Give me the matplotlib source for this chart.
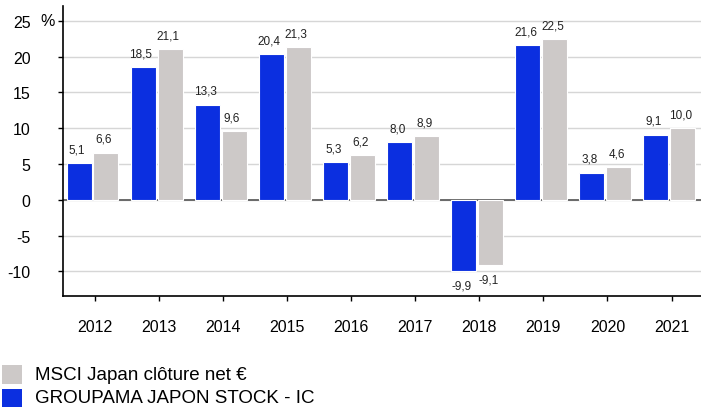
import numpy as np
import matplotlib
matplotlib.use("Agg")
import matplotlib.pyplot as plt
from matplotlib.patches import Rectangle

plt.rcParams['font.family'] = ['Liberation Sans', 'DejaVu Sans']

years = ['2012', '2013', '2014', '2015', '2016', '2017', '2018', '2019', '2020', '2021']
fund = [5.1, 18.5, 13.3, 20.4, 5.3, 8.0, -9.9, 21.6, 3.8, 9.1]
index_msci = [6.6, 21.1, 9.6, 21.3, 6.2, 8.9, -9.1, 22.5, 4.6, 10.0]
fund_name = 'GROUPAMA JAPON STOCK - IC'
index_name = 'MSCI Japan clôture net €'
yticks = [-10, -5, 0, 5, 10, 15, 20, 25]

blue = '#0b2fe0'
grey = '#cdc9c8'

fig = plt.figure(figsize=(7.01, 4.14), dpi=100)
ax = fig.add_axes([0.0894, 0.2833, 0.9106, 0.7005])

x = np.arange(len(years))
w = 0.39
b1 = ax.bar(x - 0.245, fund, w, color=blue, edgecolor='white', linewidth=0.8, zorder=3)
b2 = ax.bar(x + 0.175, index_msci, w, color=grey, edgecolor='white', linewidth=0.8, zorder=3)


def fmt(v):
    return f"{v:.1f}".replace('.', ',')


for bars, vals in ((b1, fund), (b2, index_msci)):
    for rect, v in zip(bars, vals):
        cx = rect.get_x() + rect.get_width() / 2
        off = 5.5 if v >= 0 else -6.5
        ax.annotate(fmt(v), (cx, v), xytext=(-1.5, off), textcoords='offset points',
                    ha='center', va='bottom' if v >= 0 else 'top',
                    fontsize=8.5, color='#222222', zorder=4)

ax.set_xlim(-0.5, 9.46)
ax.set_ylim(-13.4, 27.1)
ax.set_yticks(yticks)
ax.set_yticklabels([str(t) for t in yticks])
ax.set_xticks(x)
ax.set_xticklabels(years)

ax.grid(axis='y', color='#d6d6d6', linewidth=1, zorder=0)
ax.axhline(0, color='#606060', linewidth=1.3, zorder=2)

for s in ('top', 'right'):
    ax.spines[s].set_visible(False)
for s in ('left', 'bottom'):
    ax.spines[s].set_color('black')
    ax.spines[s].set_linewidth(1.2)

ax.tick_params(axis='y', length=3.6, width=1, pad=19.5, labelsize=11.5)
ax.tick_params(axis='x', length=3.6, width=1, pad=13.5, labelsize=11.5)

fig.text(48 / 701, 1 - 22 / 414, '%', ha='center', va='center', fontsize=11.5)

# legend drawn by hand at the bottom left
W, H = 701, 414
fig.patches.append(Rectangle((2 / W, 1 - 385 / H), 20 / W, 19 / H, transform=fig.transFigure,
                             facecolor=grey, edgecolor='none'))
fig.patches.append(Rectangle((2 / W, 1 - 408 / H), 20 / W, 18 / H, transform=fig.transFigure,
                             facecolor=blue, edgecolor='none'))
fig.text(35 / W, 1 - 375.5 / H, index_name, ha='left', va='center', fontsize=13.5)
fig.text(35 / W, 1 - 399 / H, fund_name, ha='left', va='center', fontsize=13.5)

fig.savefig('out.png', dpi=100)
